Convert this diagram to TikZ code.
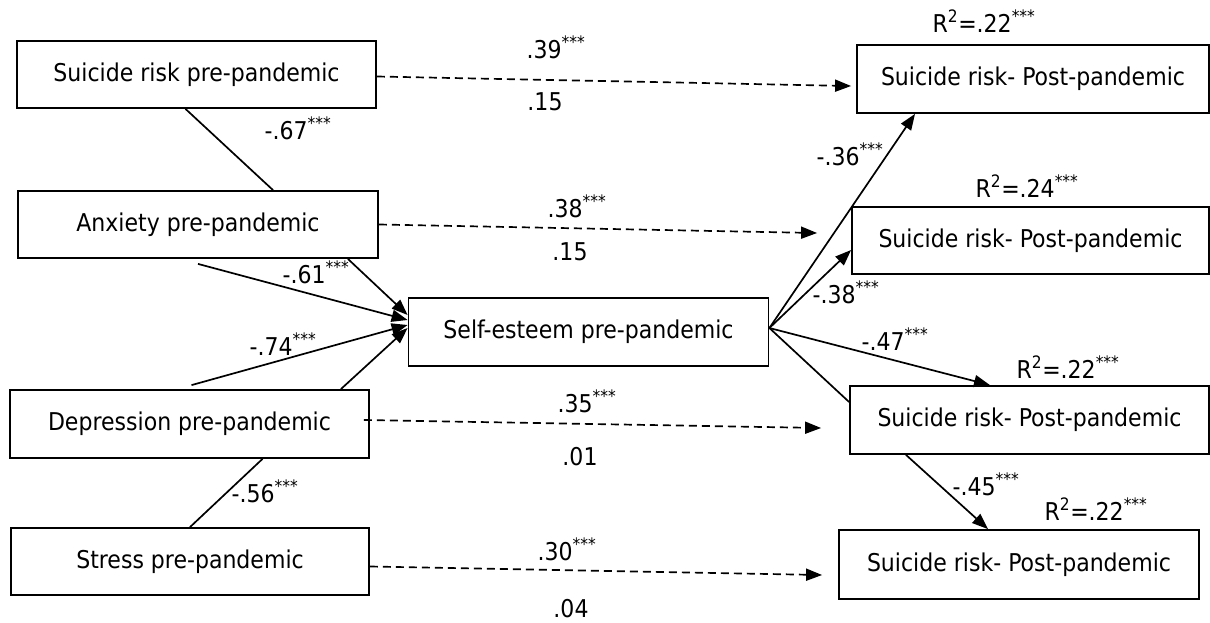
\documentclass[tikz,border=0pt]{standalone}
\usepackage{fontspec}
\setmainfont{DejaVu Sans Condensed}
\usepackage{tikz}
\usetikzlibrary{arrows.meta,calc}
\newcommand{\stars}{\textsuperscript{***}}
\tikzset{
>={Triangle[length=16pt,width=12pt]},
var node/.style={draw,line width=1.8pt,minimum width=359,minimum height=67,inner sep=0pt},
freccia/.style={->,line width=1.7pt},
freccia tratt/.style={->,line width=1.7pt,dash pattern=on 8pt off 5pt},
linea/.style={line width=1.7pt},
coeff/.style={anchor=base,inner sep=0pt}}

\begin{document}
\begin{tikzpicture}[x=1pt,y=-1pt,font=\fontsize{24.5}{29}\selectfont]
\useasboundingbox (0,0) rectangle (1210,622);

% variables
\node (srpre) [var node] at (196.5,74.5) {Suicide risk pre-pandemic};
\node (anx) [var node,minimum width=360] at (198,224.5) {Anxiety pre-pandemic};
\node (dep) [var node,minimum height=68] at (189.5,424) {Depression pre-pandemic};
\node (stress) [var node,minimum width=358] at (190,561.5) {Stress pre-pandemic};
\node (se) [var node,minimum width=360,minimum height=68] at (588.5,332) {Self-esteem pre-pandemic};
\node (post1) [var node,minimum width=352,minimum height=68] at (1033,79) {Suicide risk- Post-pandemic};
\node (post2) [var node,minimum width=357] at (1030.5,240.5) {Suicide risk- Post-pandemic};
\node (post3) [var node,minimum height=68] at (1029.5,420) {Suicide risk- Post-pandemic};
\node (post4) [var node,minimum width=360,minimum height=69] at (1019,564.5) {Suicide risk- Post-pandemic};

% correlations
\draw[linea] ([xshift=-11pt]srpre.south) -- ([xshift=75pt]anx.north);
\draw[linea] ([xshift=73pt]dep.south) -- (stress.north);

% paths to self-esteem
\draw[freccia] ([xshift=-31pt]anx.south east) -- ([yshift=17pt]se.west);
\draw[freccia] ([yshift=-5pt]anx.south) -- ([yshift=12pt]se.west);
\draw[freccia] ([xshift=2pt,yshift=4pt]dep.north) -- ([yshift=7pt]se.west);
\draw[freccia] ([xshift=-29pt]dep.north east) -- ([yshift=4pt]se.west);

% direct effects
\draw[freccia tratt] ([yshift=-2pt]srpre.east) -- ([xshift=-5pt,yshift=-7pt]post1.west);
\draw[freccia tratt] (anx.east) -- ([xshift=-34pt,yshift=7.5pt]post2.west);
\draw[freccia tratt] ([xshift=-6pt,yshift=4pt]dep.east) -- ([xshift=-28pt,yshift=-8pt]post3.west);
\draw[freccia tratt] ([yshift=-5pt]stress.east) -- ([xshift=-16pt,yshift=-10.5pt]post4.west);

% paths from self-esteem
\draw[freccia] ([yshift=4pt]se.east) -- ([xshift=-118pt]post1.south);
\draw[freccia] ([yshift=4pt]se.east) -- ([yshift=-9.5pt]post2.west);
\draw[freccia] ([yshift=4pt]se.east) -- ([xshift=-39.5pt]post3.north);
\draw[linea] ([yshift=4pt]se.east) -- ([yshift=18pt]post3.west);
\draw[freccia] ([xshift=-123.5pt]post3.south) -- ([xshift=-31pt]post4.north);

% coefficients
\node (c67) [coeff] at (298,139) {-.67\stars};
\node (c61) [coeff] at (316,283) {-.61\stars};
\node (c74) [coeff] at (283,355) {-.74\stars};
\node (c56) [coeff] at (265,502) {-.56\stars};
\node (c39) [coeff] at (556,58) {.39\stars};
\node (c15a) [coeff] at (545,110) {.15};
\node (c38) [coeff] at (577,217) {.38\stars};
\node (c15b) [coeff] at (570,260) {.15};
\node (c35) [coeff] at (587,412) {.35\stars};
\node (c01) [coeff] at (580,465) {.01};
\node (c30) [coeff] at (567,560) {.30\stars};
\node (c04) [coeff] at (571,617) {.04};
\node (c36) [coeff] at (850,165) {-.36\stars};
\node (c38b) [coeff] at (846,303) {-.38\stars};
\node (c47) [coeff] at (895,350) {-.47\stars};
\node (c45) [coeff] at (986,495) {-.45\stars};
\node (r1) [coeff] at (984,32) {R\textsuperscript{2}=.22\stars};
\node (r2) [coeff] at (1027,197) {R\textsuperscript{2}=.24\stars};
\node (r3) [coeff] at (1068,378) {R\textsuperscript{2}=.22\stars};
\node (r4) [coeff] at (1096,520) {R\textsuperscript{2}=.22\stars};

\end{tikzpicture}
\end{document}
